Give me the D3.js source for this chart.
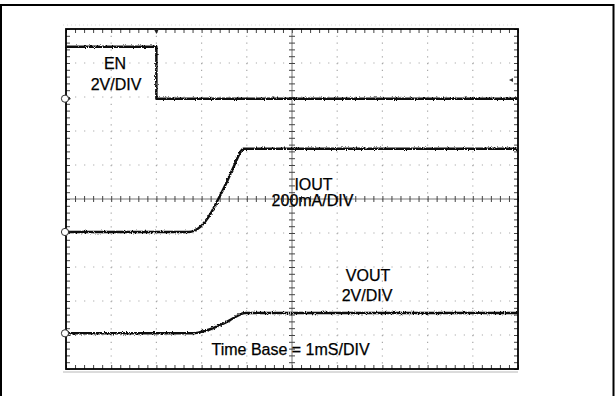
<!DOCTYPE html>
<html>
<head>
<meta charset="utf-8">
<script src="https://cdn.jsdelivr.net/npm/d3@7"></script>
<style>
  html, body { margin: 0; padding: 0; background: #fff; }
  svg { display: block; }
  text { font-family: "Liberation Sans", Arial, sans-serif; fill: #000; }
</style>
</head>
<body>
<svg id="scope" width="615" height="396"></svg>
<script>
// Time axis: 10 divisions at 1 ms/div; vertical axis: 10 divisions.
const timeDivisions = d3.range(0, 11);
const levelDivisions = d3.range(-5, 6);

// EN channel (2 V/div), ground marker at +2.95 div
const enOffsetDiv = 2.95, enVoltsPerDiv = 2;
const enTimeMs = [0, 2.0, 2.0, 10];
const enVolts  = [3.05, 3.05, 0, 0];
const enTriggerVolts = 1.1;
const triggerTimeMs = 2.0;

// IOUT channel (200 mA/div), ground marker at -0.97 div
const ioutOffsetDiv = -0.97, ioutMaPerDiv = 200;
const ioutTimeMs = [0, 2.72, 2.85, 2.97, 3.08, 3.2, 3.37, 3.55, 3.72, 3.86, 3.92, 10];
const ioutMa     = [0, 0, 10, 30, 62, 108, 194, 290, 390, 470, 490, 490];

// VOUT channel (2 V/div), ground marker at -3.95 div
const voutOffsetDiv = -3.95, voutVoltsPerDiv = 2;
const voutTimeMs = [0, 2.8, 2.96, 3.19, 3.41, 3.63, 3.8, 3.95, 10];
const voutVolts  = [0, 0, 0.06, 0.24, 0.48, 0.78, 1.04, 1.19, 1.19];

const svg = d3.select("#scope");

// outer frame
svg.append("rect")
  .attr("x", 1).attr("y", 5).attr("width", 612.5).attr("height", 420)
  .attr("fill", "none").attr("stroke", "#000").attr("stroke-width", 2);

const x = d3.scaleLinear().domain([0, 10]).range([66, 518]);
const y = d3.scaleLinear().domain([-5, 5]).range([369, 29]);

const g = svg.append("g");

// faint shadow lines around the graticule
g.append("line").attr("x1", x(0) - 3).attr("x2", x(10)).attr("y1", y(-5) + 3).attr("y2", y(-5) + 3)
  .attr("stroke", "#b8b8b8").attr("stroke-width", 1);
g.append("line").attr("x1", x(0) - 3).attr("x2", x(10)).attr("y1", y(5) - 4).attr("y2", y(5) - 4)
  .attr("stroke", "#dcdcdc").attr("stroke-width", 1).attr("stroke-dasharray", "1,3");

// dotted graticule
const minorX = (x(1) - x(0)) / 5, minorY = (y(0) - y(1)) / 5;
g.selectAll("line.gh").data(levelDivisions.filter(d => d !== 0 && Math.abs(d) !== 5))
  .join("line").attr("class", "gh")
  .attr("x1", x(0)).attr("x2", x(10)).attr("y1", d => y(d)).attr("y2", d => y(d))
  .attr("stroke", "#a9a9a9").attr("stroke-width", 1.2)
  .attr("stroke-dasharray", `1.2,${minorX - 1.2}`);
g.selectAll("line.gv").data(timeDivisions.filter(d => d !== 5 && d !== 0 && d !== 10))
  .join("line").attr("class", "gv")
  .attr("x1", d => x(d)).attr("x2", d => x(d)).attr("y1", y(5)).attr("y2", y(-5))
  .attr("stroke", "#a9a9a9").attr("stroke-width", 1.2)
  .attr("stroke-dasharray", `1.2,${minorY - 1.2}`);

// minor tick positions
const minorTimes = d3.range(0, 50.001, 1).map(i => i / 5);
const minorLevels = d3.range(-25, 25.001, 1).map(i => i / 5);

function tickAxis(axis, tx, ty, values, size) {
  const a = g.append("g").attr("transform", `translate(${tx},${ty})`)
    .call(axis.tickValues(values).tickSize(size).tickSizeOuter(0).tickFormat(""));
  a.select(".domain").remove();
  a.selectAll(".tick line").attr("stroke", "#444").attr("stroke-width", 1);
  return a;
}

// border ticks pointing inward
tickAxis(d3.axisTop(x), 0, y(-5), minorTimes, 4);
tickAxis(d3.axisBottom(x), 0, y(5), minorTimes, 4);
tickAxis(d3.axisRight(y), x(0), 0, minorLevels, 4);
tickAxis(d3.axisLeft(y), x(10), 0, minorLevels, 4);

// centre cross-hair with ticks on both sides
g.append("line").attr("x1", x(0)).attr("x2", x(10)).attr("y1", y(0)).attr("y2", y(0))
  .attr("stroke", "#777").attr("stroke-width", 1);
g.append("line").attr("x1", x(5)).attr("x2", x(5)).attr("y1", y(5)).attr("y2", y(-5))
  .attr("stroke", "#777").attr("stroke-width", 1);
tickAxis(d3.axisTop(x), 0, y(0), minorTimes, 3);
tickAxis(d3.axisBottom(x), 0, y(0), minorTimes, 3);
tickAxis(d3.axisLeft(y), x(5), 0, minorLevels, 3);
tickAxis(d3.axisRight(y), x(5), 0, minorLevels, 3);

// graticule border
g.append("rect").attr("x", x(0)).attr("y", y(5))
  .attr("width", x(10) - x(0)).attr("height", y(-5) - y(5))
  .attr("fill", "none").attr("stroke", "#000").attr("stroke-width", 1.8);

// rough trace texture (sampling noise of the scope trace)
const defs = svg.append("defs");
const f = defs.append("filter").attr("id", "rough")
  .attr("filterUnits", "userSpaceOnUse")
  .attr("x", 0).attr("y", 0).attr("width", 615).attr("height", 396);
f.append("feTurbulence").attr("type", "fractalNoise").attr("baseFrequency", "1.1 0.9")
  .attr("numOctaves", 2).attr("seed", 7).attr("result", "n");
f.append("feDisplacementMap").attr("in", "SourceGraphic").attr("in2", "n")
  .attr("scale", 3.2).attr("xChannelSelector", "R").attr("yChannelSelector", "G");

const traceStyle = p => p.attr("fill", "none").attr("stroke", "#111")
  .attr("stroke-width", 2.5).attr("stroke-linejoin", "round").attr("filter", "url(#rough)");

function trace(times, values, offsetDiv, perDiv, curve) {
  const line = d3.line()
    .x((d, i) => x(times[i]))
    .y(d => y(offsetDiv + d / perDiv))
    .curve(curve);
  g.append("path").datum(values).attr("d", line).call(traceStyle);
}

trace(enTimeMs, enVolts, enOffsetDiv, enVoltsPerDiv, d3.curveLinear);
trace(ioutTimeMs, ioutMa, ioutOffsetDiv, ioutMaPerDiv, d3.curveMonotoneX);
trace(voutTimeMs, voutVolts, voutOffsetDiv, voutVoltsPerDiv, d3.curveMonotoneX);

// channel ground markers
[enOffsetDiv, ioutOffsetDiv, voutOffsetDiv].forEach(off => {
  const cy = y(off);
  g.append("path").attr("d", `M${x(0) + 1},${cy - 2.5} L${x(0) + 5},${cy} L${x(0) + 1},${cy + 2.5} Z`)
    .attr("fill", "#222");
  g.append("circle").attr("cx", x(0) - 1).attr("cy", cy).attr("r", 3.6)
    .attr("fill", "#fff").attr("stroke", "#333").attr("stroke-width", 1);
});

// trigger position (top) and trigger level (right)
const tx = x(triggerTimeMs);
g.append("path").attr("d", `M${tx - 2.5},${y(5)} L${tx + 2.5},${y(5)} L${tx},${y(5) + 5} Z`)
  .attr("fill", "#222");
const ty = y(enOffsetDiv + enTriggerVolts / enVoltsPerDiv);
g.append("path").attr("d", `M${x(10) - 9},${ty} L${x(10) - 5},${ty - 2} L${x(10) - 5},${ty + 2} Z`)
  .attr("fill", "#333");

// channel labels
const labels = [
  { text: "EN", cx: 115, by: 68.5, anchor: "middle" },
  { text: "2V/DIV", cx: 116, by: 89.5, anchor: "middle" },
  { text: "IOUT", cx: 313.5, by: 189.5, anchor: "middle" },
  { text: "200mA/DIV", cx: 312.5, by: 205.5, anchor: "middle" },
  { text: "VOUT", cx: 368, by: 280.5, anchor: "middle" },
  { text: "2V/DIV", cx: 367, by: 300.5, anchor: "middle" },
  { text: "Time Base = 1mS/DIV", cx: 211.5, by: 354.5, anchor: "start" }
];
g.selectAll("text.lbl").data(labels).join("text").attr("class", "lbl")
  .attr("x", d => d.cx).attr("y", d => d.by)
  .attr("text-anchor", d => d.anchor)
  .attr("font-size", 16)
  .attr("stroke", "#000").attr("stroke-width", 0.25)
  .text(d => d.text);
</script>
</body>
</html>
